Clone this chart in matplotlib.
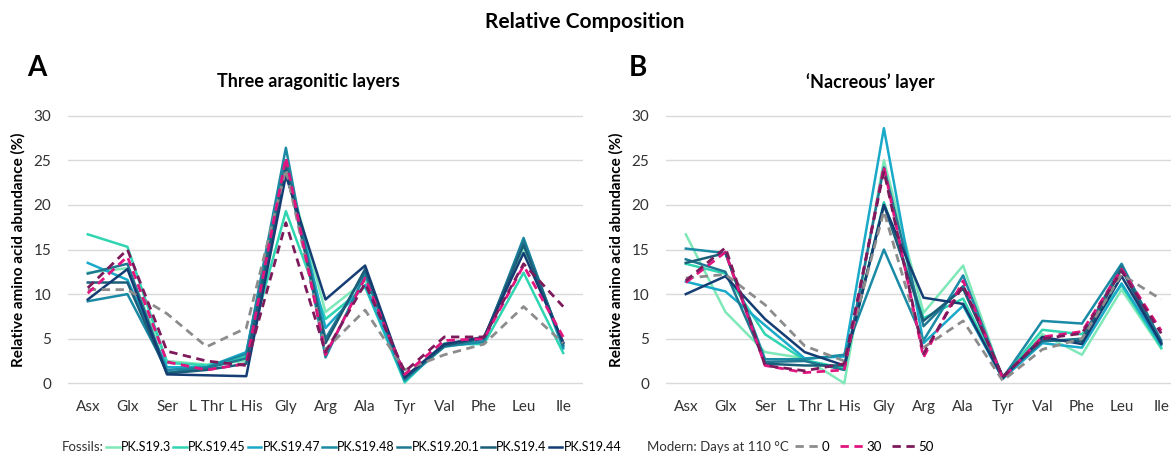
import matplotlib.pyplot as plt
from matplotlib.lines import Line2D

plt.rcParams['font.family'] = ['Lato', 'DejaVu Sans']

amino_acids = ['Asx', 'Glx', 'Ser', 'L Thr', 'L His', 'Gly', 'Arg', 'Ala', 'Tyr', 'Val', 'Phe', 'Leu', 'Ile']

fossil_names = ['PK.S19.3', 'PK.S19.45', 'PK.S19.47', 'PK.S19.48', 'PK.S19.20.1', 'PK.S19.4', 'PK.S19.44']
fossil_colors = ['#7ee8b8', '#2fd5b1', '#19a9c9', '#1a8aa5', '#1f7892', '#1b5e7a', '#143d73']
modern_names = ['0', '30', '50']
modern_colors = ['#8c8c8c', '#e0157f', '#7d1a5c']

# panel A - three aragonitic layers
a_s19_3 = [12.4, 12.9, 2.5, 2.1, 2.5, 24.5, 8.0, 11.5, 0.3, 4.5, 4.8, 15.2, 4.2]
a_s19_45 = [16.7, 15.3, 2.3, 2.0, 3.0, 19.3, 7.2, 10.8, 0.1, 4.4, 4.4, 12.4, 3.4]
a_s19_47 = [13.5, 11.6, 1.8, 1.8, 3.5, 24.8, 6.2, 11.0, 0.3, 4.2, 4.6, 15.8, 3.9]
a_s19_48 = [9.2, 10.0, 1.5, 1.8, 3.3, 26.4, 2.9, 12.2, 0.4, 4.1, 4.7, 16.3, 4.1]
a_s19_20_1 = [12.3, 13.4, 1.2, 1.7, 2.8, 25.0, 5.0, 12.5, 0.5, 4.3, 5.0, 16.0, 4.3]
a_s19_4 = [11.3, 11.3, 1.1, 1.5, 2.2, 24.2, 4.5, 12.8, 0.6, 4.2, 5.1, 15.5, 4.5]
a_s19_44 = [9.4, 12.8, 1.0, 0.9, 0.8, 23.3, 9.4, 13.2, 0.7, 4.4, 5.2, 14.6, 4.6]
a_mod_0 = [10.5, 10.5, 7.8, 4.1, 6.2, 24.0, 3.8, 8.2, 1.5, 3.2, 4.4, 8.6, 4.5]
a_mod_30 = [10.1, 14.2, 2.4, 1.5, 2.2, 25.3, 3.2, 11.8, 1.0, 4.8, 5.0, 13.2, 5.2]
a_mod_50 = [10.7, 15.0, 3.6, 2.5, 2.0, 18.0, 3.5, 11.2, 1.3, 5.2, 5.2, 13.4, 8.6]

# panel B - nacreous layer
b_s19_3 = [16.7, 8.0, 3.5, 2.8, 0.0, 25.0, 7.9, 13.2, 0.5, 5.5, 3.2, 10.5, 3.9]
b_s19_45 = [13.4, 12.3, 5.5, 2.6, 1.7, 20.3, 7.3, 9.5, 0.6, 6.0, 5.5, 11.0, 4.0]
b_s19_47 = [11.4, 10.3, 6.5, 2.8, 3.0, 28.6, 4.5, 8.7, 0.5, 4.5, 4.0, 11.2, 4.3]
b_s19_48 = [15.1, 14.6, 2.7, 2.7, 3.2, 15.0, 4.8, 12.1, 0.6, 7.0, 6.7, 13.4, 4.6]
b_s19_20_1 = [13.9, 12.5, 2.4, 2.5, 1.5, 24.2, 6.4, 10.9, 0.7, 4.7, 5.0, 13.2, 4.8]
b_s19_4 = [13.5, 14.6, 2.2, 2.0, 2.0, 20.0, 7.0, 10.6, 0.8, 4.9, 4.7, 12.8, 4.4]
b_s19_44 = [10.0, 12.0, 7.2, 3.5, 2.0, 20.0, 9.6, 8.9, 0.6, 5.2, 4.4, 12.0, 4.5]
b_mod_0 = [11.8, 12.2, 8.8, 4.2, 2.5, 19.3, 4.0, 7.0, 0.3, 3.8, 5.0, 12.2, 9.4]
b_mod_30 = [11.3, 14.7, 2.0, 1.2, 1.5, 24.3, 2.9, 11.5, 0.6, 5.2, 5.8, 12.8, 5.9]
b_mod_50 = [11.5, 15.2, 2.0, 1.4, 2.2, 23.8, 3.3, 11.0, 0.7, 5.0, 5.6, 12.6, 5.6]

W, H = 1171, 453
fig = plt.figure(figsize=(W / 100, H / 100), dpi=100)


def px_axes(left, top, right, bottom):
    return fig.add_axes([left / W, 1 - bottom / H, (right - left) / W, (bottom - top) / H])


def draw_panel(ax, fossils, moderns):
    x = range(len(amino_acids))
    for vals, c in zip(fossils, fossil_colors):
        ax.plot(x, vals, color=c, lw=1.8)
    for vals, c in zip(moderns, modern_colors):
        ax.plot(x, vals, color=c, lw=2.0, ls=(0, (3, 2)))
    ax.set_xlim(-0.5, 12.5)
    ax.set_ylim(-0.3, 30.3)
    ax.set_yticks([0, 5, 10, 15, 20, 25, 30])
    ax.set_xticks(list(x))
    ax.set_xticklabels(amino_acids)
    ax.grid(axis='y', color='#d9d9d9', lw=1)
    ax.set_axisbelow(True)
    for s in ax.spines.values():
        s.set_visible(False)
    ax.tick_params(length=0, labelsize=11, colors='#333333', pad=10)
    ax.tick_params(axis='y', pad=12)
    ax.set_ylabel('Relative amino acid abundance (%)', fontsize=11, fontweight='bold', labelpad=6)


ax_a = px_axes(68, 113, 583, 386)
draw_panel(ax_a, [a_s19_3, a_s19_45, a_s19_47, a_s19_48, a_s19_20_1, a_s19_4, a_s19_44],
           [a_mod_0, a_mod_30, a_mod_50])
ax_b = px_axes(666, 113, 1181, 386)
draw_panel(ax_b, [b_s19_3, b_s19_45, b_s19_47, b_s19_48, b_s19_20_1, b_s19_4, b_s19_44],
           [b_mod_0, b_mod_30, b_mod_50])

fig.text(585 / W, 1 - 22 / H, 'Relative Composition', ha='center', va='center', fontsize=15, fontweight='bold')
fig.text(308 / W, 1 - 82 / H, 'Three aragonitic layers', ha='center', va='center', fontsize=13, fontweight='bold')
fig.text(870 / W, 1 - 82 / H, '\u2018Nacreous\u2019 layer', ha='center', va='center', fontsize=13, fontweight='bold')
fig.text(37 / W, 1 - 68 / H, 'A', ha='center', va='center', fontsize=20, fontweight='bold')
fig.text(638 / W, 1 - 68 / H, 'B', ha='center', va='center', fontsize=20, fontweight='bold')

# bottom legend
fig.text(62 / W, 1 - 447 / H, 'Fossils:', ha='left', va='center', fontsize=9.5, color='#333333')
f_handles = [Line2D([], [], color=c, lw=1.8) for c in fossil_colors]
fig.legend(f_handles, fossil_names, loc='center left', bbox_to_anchor=(106 / W, 1 - 447 / H), ncol=7,
           frameon=False, fontsize=9, handlelength=1.1, handletextpad=0.1, columnspacing=0.15,
           borderpad=0, borderaxespad=0)
fig.text(647 / W, 1 - 447 / H, 'Modern: Days at 110 \u00b0C', ha='left', va='center', fontsize=9.5, color='#333333')
m_handles = [Line2D([], [], color=c, lw=2.0, ls=(0, (3, 2))) for c in modern_colors]
fig.legend(m_handles, modern_names, loc='center left', bbox_to_anchor=(795 / W, 1 - 447 / H), ncol=3,
           frameon=False, fontsize=9.5, handlelength=1.8, handletextpad=0.2, columnspacing=0.8,
           borderpad=0, borderaxespad=0)

fig.savefig('out.png', dpi=100)
